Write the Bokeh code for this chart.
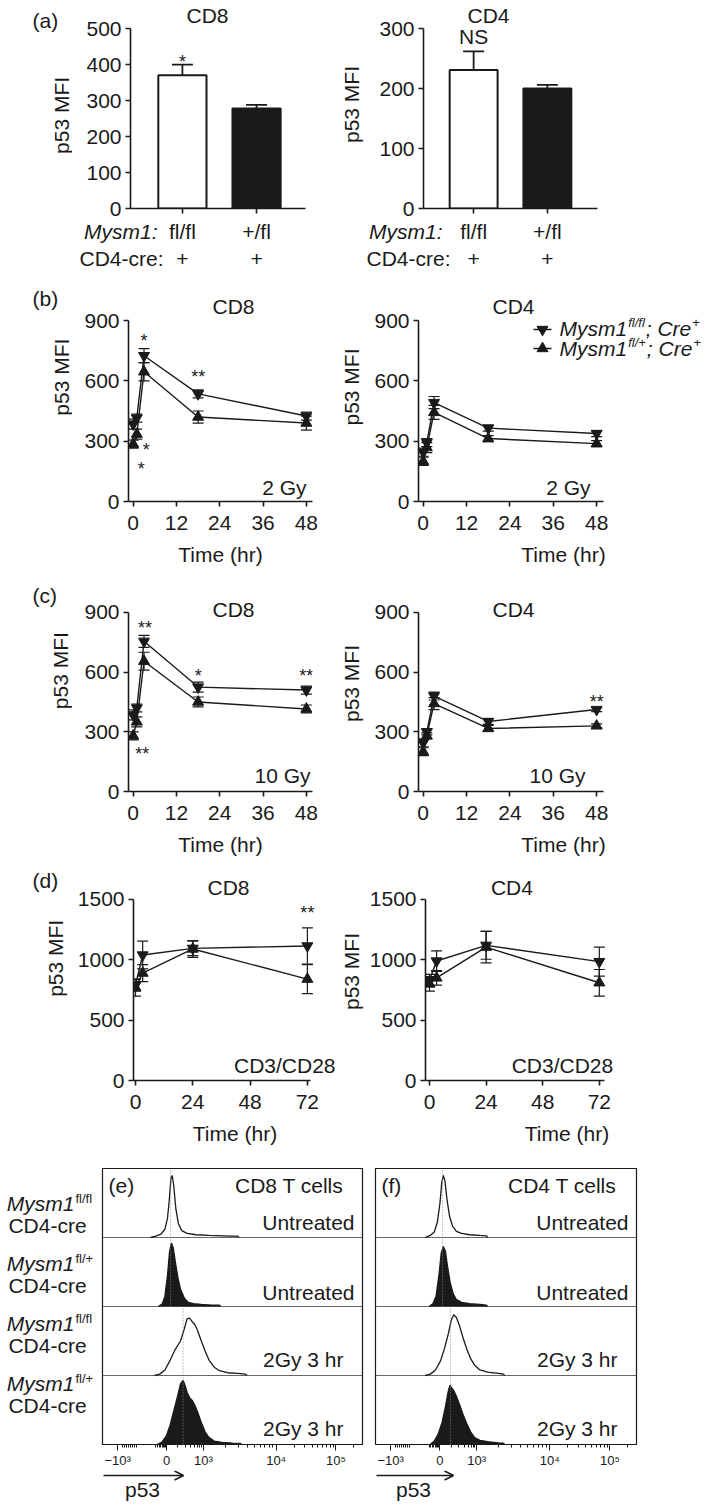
import math
from bokeh.plotting import figure
from bokeh.models import (Range1d, Label, Whisker, TeeHead, FixedTicker, Arrow,
                          OpenHead, ColumnDataSource)
from bokeh.layouts import column, row
from bokeh.embed import file_html
from bokeh.resources import INLINE

FONT = "Liberation Sans"
INK = "#1a1a1a"
FS = 21

# ---------------- data ----------------
GENOTYPES = ["fl/fl", "+/fl"]
A_CD8 = [370, 278]
A_CD8_ERR = [30, 10]
A_CD4 = [231, 200]
A_CD4_ERR = [31, 6]

T_IR = [0, 1, 3, 18, 48]
B_CD8_FLFL = [385, 415, 725, 535, 425]
B_CD8_FLFL_ERR = [25, 20, 35, 20, 20]
B_CD8_FLP = [285, 335, 645, 420, 390]
B_CD8_FLP_ERR = [20, 25, 45, 30, 35]
B_CD4_FLFL = [245, 293, 492, 365, 338]
B_CD4_FLFL_ERR = [20, 20, 30, 15, 15]
B_CD4_FLP = [200, 268, 443, 313, 288]
B_CD4_FLP_ERR = [20, 25, 35, 15, 15]

C_CD8_FLFL = [385, 420, 755, 525, 510]
C_CD8_FLFL_ERR = [25, 20, 30, 25, 20]
C_CD8_FLP = [280, 350, 655, 450, 415]
C_CD8_FLP_ERR = [20, 25, 45, 25, 20]
C_CD4_FLFL = [245, 300, 480, 352, 412]
C_CD4_FLFL_ERR = [20, 15, 20, 15, 10]
C_CD4_FLP = [200, 280, 442, 317, 330]
C_CD4_FLP_ERR = [20, 15, 30, 15, 10]

T_STIM = [0, 3, 24, 72]
D_CD8_FLFL = [790, 1040, 1095, 1115]
D_CD8_FLFL_ERR = [50, 115, 60, 150]
D_CD8_FLP = [770, 890, 1090, 840]
D_CD8_FLP_ERR = [70, 70, 70, 120]
D_CD4_FLFL = [830, 990, 1120, 985]
D_CD4_FLFL_ERR = [50, 85, 115, 120]
D_CD4_FLP = [800, 850, 1105, 810]
D_CD4_FLP_ERR = [60, 60, 130, 110]

# significance marks: (text, x, y) in data units
SIG_A_CD8 = [("*", 1, 407)]
SIG_A_CD4 = [("NS", 1, 286)]
SIG_B_CD8 = [("*", 3.0, 800), ("**", 18, 617), ("*", 3.6, 254), ("*", 2.2, 164)]
SIG_B_CD4 = []
SIG_C_CD8 = [("**", 3.3, 820), ("*", 18, 583), ("**", 48, 583), ("**", 2.5, 191)]
SIG_C_CD4 = [("**", 48, 452)]
SIG_D_CD8 = [("**", 72, 1384)]
SIG_D_CD4 = []

# flow histograms (display position 0..1, height as fraction of row)
E1_X = [0.185, 0.205, 0.225, 0.24, 0.25, 0.257, 0.263, 0.268, 0.274, 0.282, 0.292, 0.305, 0.325, 0.36, 0.41, 0.46, 0.50, 0.52, 0.525]
E1_H = [0.00, 0.02, 0.05, 0.12, 0.28, 0.55, 0.85, 0.90, 0.75, 0.42, 0.20, 0.10, 0.06, 0.04, 0.03, 0.025, 0.02, 0.02, 0.00]
E2_X = [0.215, 0.23, 0.24, 0.25, 0.258, 0.265, 0.272, 0.28, 0.29, 0.30, 0.315, 0.33, 0.35, 0.38, 0.42, 0.45, 0.455]
E2_H = [0.00, 0.04, 0.15, 0.45, 0.80, 0.92, 0.85, 0.65, 0.42, 0.25, 0.12, 0.06, 0.04, 0.03, 0.02, 0.02, 0.00]
E3_X = [0.20, 0.22, 0.24, 0.26, 0.28, 0.30, 0.315, 0.325, 0.335, 0.345, 0.355, 0.365, 0.38, 0.395, 0.41, 0.43, 0.45, 0.48, 0.52, 0.55, 0.555]
E3_H = [0.00, 0.02, 0.08, 0.22, 0.38, 0.50, 0.68, 0.82, 0.83, 0.78, 0.74, 0.66, 0.50, 0.35, 0.22, 0.12, 0.07, 0.04, 0.03, 0.02, 0.00]
E4_X = [0.21, 0.23, 0.245, 0.26, 0.275, 0.29, 0.30, 0.31, 0.318, 0.326, 0.335, 0.345, 0.355, 0.365, 0.38, 0.395, 0.41, 0.43, 0.46, 0.50, 0.53, 0.535]
E4_H = [0.00, 0.04, 0.12, 0.28, 0.50, 0.72, 0.88, 0.93, 0.85, 0.75, 0.68, 0.64, 0.57, 0.48, 0.32, 0.18, 0.10, 0.05, 0.03, 0.02, 0.015, 0.00]
F1_X = [0.19, 0.21, 0.225, 0.237, 0.247, 0.254, 0.26, 0.266, 0.274, 0.284, 0.296, 0.31, 0.33, 0.36, 0.40, 0.425, 0.43]
F1_H = [0.00, 0.03, 0.08, 0.22, 0.50, 0.80, 0.90, 0.82, 0.55, 0.30, 0.16, 0.09, 0.06, 0.04, 0.03, 0.025, 0.00]
F2_X = [0.205, 0.22, 0.232, 0.243, 0.252, 0.26, 0.268, 0.276, 0.286, 0.298, 0.31, 0.33, 0.36, 0.40, 0.425, 0.43]
F2_H = [0.00, 0.04, 0.15, 0.45, 0.78, 0.87, 0.80, 0.58, 0.35, 0.18, 0.10, 0.06, 0.04, 0.03, 0.02, 0.00]
F3_X = [0.19, 0.21, 0.23, 0.25, 0.265, 0.28, 0.29, 0.30, 0.31, 0.322, 0.335, 0.35, 0.365, 0.38, 0.40, 0.43, 0.47, 0.49, 0.495]
F3_H = [0.00, 0.02, 0.08, 0.22, 0.40, 0.62, 0.80, 0.88, 0.84, 0.72, 0.55, 0.38, 0.24, 0.15, 0.08, 0.05, 0.03, 0.02, 0.00]
F4_X = [0.21, 0.225, 0.24, 0.255, 0.268, 0.278, 0.285, 0.292, 0.30, 0.31, 0.322, 0.335, 0.35, 0.365, 0.38, 0.40, 0.43, 0.47, 0.49, 0.495]
F4_H = [0.00, 0.05, 0.15, 0.32, 0.55, 0.76, 0.86, 0.82, 0.78, 0.70, 0.58, 0.44, 0.30, 0.18, 0.10, 0.06, 0.04, 0.025, 0.02, 0.00]
E_MEDIANS = [0.262, 0.31]
F_MEDIANS = [0.257, 0.287]
ROW_TEXT = ["Untreated", "Untreated", "2Gy 3 hr", "2Gy 3 hr"]
ROW_SUP = ["fl/fl", "fl/+", "fl/fl", "fl/+"]
HIST_MAJOR = [0.058, 0.247, 0.388, 0.668, 0.898]
HIST_LABELS = ["\u221210\u00b3", "0", "10\u00b3", "10\u2074", "10\u2075"]

ADV = {"M": 833, "y": 500, "s": 500, "m": 833, "1": 556, "f": 278, "l": 222, "/": 278,
       "+": 584, ";": 278, " ": 278, "C": 722, "r": 333, "e": 556}


def tw(s, size):
    return sum(ADV.get(c, 556) for c in s) * size / 1000.0


def make(fig_left, fig_top, fig_w, fig_h, frame, xr, yr):
    """Figure whose plotting frame sits at the given page-pixel box."""
    fx0, fy0, fx1, fy1 = frame
    p = figure(width=fig_w, height=fig_h, x_range=Range1d(*xr), y_range=Range1d(*yr),
               output_backend="svg", toolbar_location=None,
               min_border_left=fx0 - fig_left, min_border_right=fig_left + fig_w - fx1,
               min_border_top=fy0 - fig_top, min_border_bottom=fig_top + fig_h - fy1)
    p.outline_line_color = None
    p.grid.visible = False
    p.background_fill_color = "white"
    p.border_fill_color = "white"

    def conv(X, Y):
        return (xr[0] + (X - fx0) / (fx1 - fx0) * (xr[1] - xr[0]),
                yr[0] + (fy1 - Y) / (fy1 - fy0) * (yr[1] - yr[0]))

    def inv_x(x):
        return fx0 + (x - xr[0]) / (xr[1] - xr[0]) * (fx1 - fx0)
    return p, conv, inv_x


def strip(x0, y0, w, h):
    """Text-only canvas whose data units are page pixels."""
    p = figure(width=w, height=h, x_range=Range1d(x0, x0 + w), y_range=Range1d(y0 + h, y0),
               x_axis_location=None, y_axis_location=None, output_backend="svg",
               toolbar_location=None, min_border_left=0, min_border_right=0,
               min_border_top=0, min_border_bottom=0)
    p.outline_line_color = None
    p.grid.visible = False
    p.background_fill_color = "white"
    p.border_fill_color = "white"
    return p, (lambda X, Y: (X, Y))


def txt(p, conv, X, Y, s, size=FS, align="center", style="normal", angle=0.0):
    """Y is the vertical centre of the text."""
    x, y = conv(X, Y)
    p.add_layout(Label(x=x, y=y, text=s, text_font=FONT, text_font_size=f"{size}px",
                       text_align=align, text_baseline="middle", text_font_style=style,
                       text_color=INK, angle=angle))


def style_axes(p, xt, yt, xb, yb, xlabel=None, ylabel=None, ylab_standoff=13):
    p.xaxis.ticker = FixedTicker(ticks=xt)
    p.yaxis.ticker = FixedTicker(ticks=yt)
    p.xaxis.bounds = xb
    p.yaxis.bounds = yb
    for ax in p.axis:
        ax.axis_line_color = INK
        ax.axis_line_width = 1.6
        ax.major_tick_line_color = INK
        ax.major_tick_line_width = 1.6
        ax.major_tick_in = 0
        ax.major_tick_out = 5
        ax.minor_tick_line_color = None
        ax.major_label_text_font = FONT
        ax.major_label_text_font_size = f"{FS}px"
        ax.major_label_text_color = INK
        ax.axis_label_text_font = FONT
        ax.axis_label_text_font_size = f"{FS}px"
        ax.axis_label_text_font_style = "normal"
        ax.axis_label_text_color = INK
    p.yaxis.major_label_standoff = 4
    p.xaxis.major_label_standoff = 9
    if ylabel:
        p.yaxis.axis_label = ylabel
        p.yaxis.axis_label_standoff = ylab_standoff
    if xlabel:
        p.xaxis.axis_label = xlabel
        p.xaxis.axis_label_standoff = 10


def stars(p, marks):
    for s, x, y in marks:
        size = FS if s == "NS" else 18
        p.add_layout(Label(x=x, y=y, text=s, text_font=FONT, text_font_size=f"{size}px",
                           text_align="center", text_baseline="middle", text_color=INK))


def series(p, t, v, e, marker):
    lo = [a - b for a, b in zip(v, e)]
    hi = [a + b for a, b in zip(v, e)]
    src = ColumnDataSource(dict(t=t, v=v, lo=lo, hi=hi))
    p.line("t", "v", source=src, line_color=INK, line_width=1.4)
    p.add_layout(Whisker(source=src, base="t", lower="lo", upper="hi", line_color=INK,
                         line_width=1.2,
                         upper_head=TeeHead(size=11, line_color=INK, line_width=1.2),
                         lower_head=TeeHead(size=11, line_color=INK, line_width=1.2)))
    p.scatter("t", "v", source=src, marker=marker, size=11, fill_color=INK, line_color=INK)


# ================= row (a) =================
ROW_A_H = 220


def bar_panel(fig_left, fig_w, frame, xr, yr, yb, vals, errs, yt, marks, title, title_x,
              ylabel, ylab_standoff):
    p, conv, inv_x = make(fig_left, 0, fig_w, ROW_A_H, frame, xr, yr)
    style_axes(p, [1, 2], yt, (xr[0], xr[1]), yb, ylabel=ylabel, ylab_standoff=ylab_standoff)
    # genotype names are written in the strip below; the axis only shows its tick marks
    p.xaxis.major_label_text_font_size = "0px"
    p.xaxis.major_label_text_color = None
    p.xaxis.major_label_text_alpha = 0
    p.xaxis.major_label_standoff = 0
    src = ColumnDataSource(dict(x=[1, 2], top=vals, hi=[a + b for a, b in zip(vals, errs)],
                                c=["white", INK]))
    p.add_layout(Whisker(source=src, base="x", lower="top", upper="hi", line_color=INK,
                         line_width=1.8, lower_head=None,
                         upper_head=TeeHead(size=21, line_color=INK, line_width=1.8)))
    p.vbar(x="x", top="top", width=0.65, source=src, fill_color="c", line_color=INK,
           line_width=2)
    stars(p, marks)
    txt(p, conv, title_x, 15, title)
    return p, inv_x


stripA, idA = strip(0, 0, 72, ROW_A_H)
txt(stripA, idA, 32, 21, "(a)", align="left")
txt(stripA, idA, 61, 121.5, "p53 MFI", angle=math.pi / 2)
a8, a8x = bar_panel(72, 264, (130, 0, 305, 208), (0.30, 2.66), (0, 578.0), (0, 500),
                    A_CD8, A_CD8_ERR, [0, 100, 200, 300, 400, 500], SIG_A_CD8, "CD8", 207,
                    None, 13)
a4, a4x = bar_panel(336, 372, (423, 0, 597, 208), (0.32, 2.68), (0, 346.8), (0, 300),
                    A_CD4, A_CD4_ERR, [0, 100, 200, 300], SIG_A_CD4, "CD4", 488,
                    "p53 MFI", 13)

stripAb, idAb = strip(0, ROW_A_H, 708, 272 - ROW_A_H)
for inv_x, lab_right, cre_right in [(a8x, 157, 163), (a4x, 442, 450)]:
    txt(stripAb, idAb, lab_right, 231, "Mysm1:", align="right", style="italic")
    txt(stripAb, idAb, cre_right, 258, "CD4-cre:", align="right")
    for i, g in enumerate(GENOTYPES):
        X = inv_x(1 + i)
        txt(stripAb, idAb, X, 231, g)
        txt(stripAb, idAb, X, 258, "+")


# ================= rows (b)-(d) =================
def line_panel(fig_left, fig_top, fig_w, fig_h, frame, xr, yr, xb, yb, xt, yt, t,
               s1, e1, s2, e2, marks, title, title_x, title_y, note, note_right,
               note_y, ylabel, ylab_standoff):
    p, conv, _ = make(fig_left, fig_top, fig_w, fig_h, frame, xr, yr)
    style_axes(p, xt, yt, xb, yb, xlabel="Time (hr)", ylabel=ylabel,
               ylab_standoff=ylab_standoff)
    series(p, t, s2, e2, "triangle")
    series(p, t, s1, e1, "inverted_triangle")
    stars(p, marks)
    txt(p, conv, title_x, title_y, title)
    txt(p, conv, note_right, note_y, note, align="right")
    return p, conv


def left_strip(y0, h, tag, tag_y, lab_x, lab_y):
    s, ident = strip(0, y0, 72, h)
    txt(s, ident, 32, tag_y, tag, align="left")
    txt(s, ident, lab_x, lab_y, "p53 MFI", angle=math.pi / 2)
    return s


stripB = left_strip(272, 303, "(b)", 307, 61, 410.5)
b8, _ = line_panel(72, 272, 264, 303, (128, 272, 312, 501), (-1.3, 49.7), (0, 1138.7),
                   (-1.3, 49.7), (0, 900), [0, 12, 24, 36, 48], [0, 300, 600, 900], T_IR,
                   B_CD8_FLFL, B_CD8_FLFL_ERR, B_CD8_FLP, B_CD8_FLP_ERR, SIG_B_CD8,
                   "CD8", 233, 306, "2 Gy", 306, 487, None, 13)
b4, cb4 = line_panel(336, 272, 372, 303, (418, 272, 708, 501), (-1.3, 78.96), (0, 1138.7),
                     (-1.3, 49.9), (0, 900), [0, 12, 24, 36, 48], [0, 300, 600, 900], T_IR,
                     B_CD4_FLFL, B_CD4_FLFL_ERR, B_CD4_FLP, B_CD4_FLP_ERR, SIG_B_CD4,
                     "CD4", 513, 306, "2 Gy", 590, 487, "p53 MFI", 8)

# legend (in panel b, CD4)
for i, (mk, sup) in enumerate([("inverted_triangle", "fl/fl"), ("triangle", "fl/+")]):
    yk = 329 + 19 * i
    yc = 327.5 + 20 * i
    x0, yy = cb4(533, yk)
    x1, _ = cb4(551, yk)
    xm, _ = cb4(542, yk)
    b4.line([x0, x1], [yy, yy], line_color=INK, line_width=1.3)
    b4.scatter([xm], [yy], marker=mk, size=11, fill_color=INK, line_color=INK)
    X = 559
    txt(b4, cb4, X, yc, "Mysm1", align="left", style="italic")
    X += tw("Mysm1", FS) + 1
    txt(b4, cb4, X, yc - 6, sup, size=13, align="left", style="italic")
    X += tw(sup, 13) + 1
    txt(b4, cb4, X, yc, "; Cre", align="left", style="italic")
    X += tw("; Cre", FS) + 1
    txt(b4, cb4, X, yc - 6, "+", size=13, align="left")

stripC = left_strip(575, 287, "(c)", 601, 60, 701.5)
c8, _ = line_panel(72, 575, 264, 287, (128, 575, 312, 791), (-1.3, 49.7), (0, 1086.0),
                   (-1.3, 49.7), (0, 900), [0, 12, 24, 36, 48], [0, 300, 600, 900], T_IR,
                   C_CD8_FLFL, C_CD8_FLFL_ERR, C_CD8_FLP, C_CD8_FLP_ERR, SIG_C_CD8,
                   "CD8", 233, 609, "10 Gy", 310, 775, None, 13)
c4, _ = line_panel(336, 575, 372, 287, (418, 575, 708, 791), (-1.3, 78.96), (0, 1086.0),
                   (-1.3, 49.9), (0, 900), [0, 12, 24, 36, 48], [0, 300, 600, 900], T_IR,
                   C_CD4_FLFL, C_CD4_FLFL_ERR, C_CD4_FLP, C_CD4_FLP_ERR, SIG_C_CD4,
                   "CD4", 513, 609, "10 Gy", 585, 775, "p53 MFI", 8)

stripD = left_strip(862, 290, "(d)", 886, 55, 989.5)
d8, _ = line_panel(72, 862, 264, 290, (133, 862, 336, 1080), (-0.84, 84.2), (0, 1806.6),
                   (-0.84, 73.3), (0, 1500), [0, 24, 48, 72], [0, 500, 1000, 1500], T_STIM,
                   D_CD8_FLFL, D_CD8_FLFL_ERR, D_CD8_FLP, D_CD8_FLP_ERR, SIG_D_CD8,
                   "CD8", 228, 887, "CD3/CD28", 335, 1065, None, 13)
d4, _ = line_panel(336, 862, 372, 290, (423, 862, 708, 1080), (-1.7, 118.3), (0, 1806.6),
                   (-1.7, 74.1), (0, 1500), [0, 24, 48, 72], [0, 500, 1000, 1500], T_STIM,
                   D_CD4_FLFL, D_CD4_FLFL_ERR, D_CD4_FLP, D_CD4_FLP_ERR, SIG_D_CD4,
                   "CD4", 510, 887, "CD3/CD28", 612, 1065, "p53 MFI", 4)


# ================= rows (e)/(f) =================
HIST_H = 318


def minor_positions():
    m = [0.075 + 0.008 * k for k in range(8)]
    m += [0.205, 0.212, 0.218, 0.224, 0.229, 0.234, 0.238, 0.242]
    m += [0.29, 0.318, 0.34, 0.355, 0.366, 0.374, 0.38]
    for a, b in [(0.388, 0.668), (0.668, 0.898)]:
        m += [a + (b - a) * math.log10(k) for k in range(2, 10)]
    m += [0.898 + 0.23 * math.log10(2)]
    return m


def hist_panel(fig_left, fig_w, frame, rows, medians, tag, title, title_right, row_rights):
    p, conv, _ = make(fig_left, 1152, fig_w, HIST_H, frame, (0, 1), (0, 4))
    p.outline_line_color = INK
    p.outline_line_width = 1.2
    p.yaxis.visible = False
    ax = p.xaxis[0]
    ax.ticker = FixedTicker(ticks=HIST_MAJOR, minor_ticks=minor_positions())
    ax.major_label_overrides = {t: l for t, l in zip(HIST_MAJOR, HIST_LABELS)}
    ax.axis_line_color = None
    ax.major_tick_line_color = INK
    ax.minor_tick_line_color = INK
    ax.major_tick_in = 0
    ax.major_tick_out = 6
    ax.minor_tick_in = 0
    ax.minor_tick_out = 3
    ax.major_label_standoff = 2
    ax.major_label_text_font = FONT
    ax.major_label_text_font_size = "13px"
    ax.major_label_text_color = INK

    p.segment(x0=[0, 0, 0], x1=[1, 1, 1], y0=[1, 2, 3], y1=[1, 2, 3], line_color="#666666",
              line_width=1)
    for i, (xs, hs, filled) in enumerate(rows):
        base = 3 - i
        top = [base + h for h in hs]
        if filled:
            p.varea(x=xs, y1=[base] * len(xs), y2=top, fill_color=INK)
        p.line(xs, top, line_color=INK, line_width=1.3)
    p.segment(x0=medians, x1=medians, y0=[2, 0], y1=[4, 2], line_color="#888888",
              line_width=1, line_dash="1 2")

    txt(p, conv, frame[0] + 6, 1185, tag, align="left")
    txt(p, conv, title_right, 1185, title, align="right")
    for i in range(4):
        txt(p, conv, row_rights[i], [1222.5, 1292.5, 1359.5, 1428.5][i], ROW_TEXT[i],
            align="right")
    return p


stripE, idE = strip(0, 1152, 100, HIST_H)
for i in range(4):
    txt(stripE, idE, 74, 1192.5 + 69 * i, "Mysm1", align="right", style="italic")
    txt(stripE, idE, 75, 1187 + 69 * i, ROW_SUP[i], size=13, align="left")
    txt(stripE, idE, 47, 1217.5 + 69 * i, "CD4-cre")

e = hist_panel(100, 266, (102, 1168, 362, 1445),
               [(E1_X, E1_H, False), (E2_X, E2_H, True), (E3_X, E3_H, False), (E4_X, E4_H, True)],
               E_MEDIANS, "(e)", "CD8 T cells", 343, [354, 354, 343, 343])
f = hist_panel(366, 342, (375, 1168, 636, 1445),
               [(F1_X, F1_H, False), (F2_X, F2_H, True), (F3_X, F3_H, False), (F4_X, F4_H, True)],
               F_MEDIANS, "(f)", "CD4 T cells", 616, [628, 628, 617, 617])

BOT_Y = 1152 + HIST_H
stripBot, idBot = strip(0, BOT_Y, 708, 1504 - BOT_Y)
for x_start, x_end, lab_x in [(103, 183, 142), (376, 453, 413)]:
    stripBot.add_layout(Arrow(x_start=x_start, y_start=1475, x_end=x_end, y_end=1475,
                              line_color=INK, line_width=1.6,
                              end=OpenHead(size=9, line_color=INK, line_width=1.6)))
    txt(stripBot, idBot, lab_x, 1489, "p53")

layout = column(
    row(stripA, a8, a4),
    stripAb,
    row(stripB, b8, b4),
    row(stripC, c8, c4),
    row(stripD, d8, d4),
    row(stripE, e, f),
    stripBot,
)
open("out.html", "w").write(file_html(layout, INLINE))
